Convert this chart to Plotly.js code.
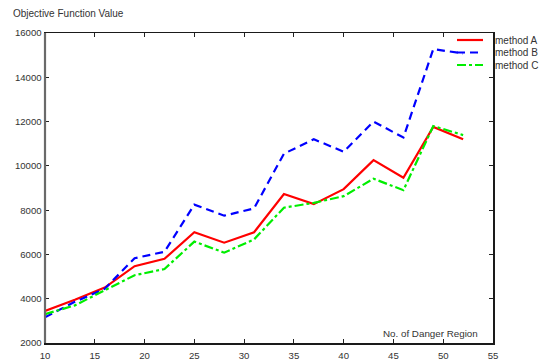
<!DOCTYPE html>
<html>
<head>
<meta charset="utf-8">
<script src="https://cdn.plot.ly/plotly-3.0.1.min.js"></script>
<style>html,body{margin:0;padding:0;background:#fff;}#chart{width:539px;height:363px;}</style>
</head>
<body>
<div id="chart"></div>
<script>
var regions = [10, 13, 16, 19, 22, 25, 28, 31, 34, 37, 40, 43, 46, 49, 52];
var methodA = [3450, 3950, 4500, 5470, 5800, 7000, 6530, 7000, 8730, 8270, 8950, 10260, 9460, 11760, 11200];
var methodB = [3160, 3860, 4450, 5830, 6120, 8250, 7750, 8080, 10550, 11200, 10640, 12000, 11280, 15270, 15080];
var methodC = [3300, 3700, 4380, 5060, 5340, 6580, 6080, 6680, 8110, 8330, 8630, 9420, 8900, 11800, 11390];
var seriesNames = ["method A", "method B", "method C"];
var xTicks = [10, 15, 20, 25, 30, 35, 40, 45, 50, 55];
var yTicks = [2000, 4000, 6000, 8000, 10000, 12000, 14000, 16000];
var titleText = "Objective Function Value";
var xLabelText = "No. of Danger Region";

var FONT = "Liberation Sans, Arial, Helvetica, sans-serif";
var TEXT = "#333";
var lineStyles = [
  {color: "#ff0000", width: 2.2, dash: "solid"},
  {color: "#0000ff", width: 2.2, dash: "8px,5px"},
  {color: "#00ee00", width: 2.2, dash: "9px,3px,3px,3px"}
];
var seriesValues = [methodA, methodB, methodC];

var traces = seriesValues.map(function (vals, i) {
  return {x: regions, y: vals, name: seriesNames[i], type: "scatter", mode: "lines",
          line: lineStyles[i], showlegend: false};
});

// plot-area geometry (px) used to place the hand-drawn legend
var W = 539, H = 363, ML = 45, MR = 46, MT = 33, MB = 20;
var PW = W - ML - MR, PH = H - MT - MB;
function px2x(p) { return (p - ML) / PW; }
function py2y(p) { return (H - MB - p) / PH; }

var shapes = [
  // thicker grey left spine, as in the reference
  {type: "line", xref: "paper", yref: "paper", x0: 0, x1: 0, y0: 0, y1: 1, layer: "above",
   line: {color: "#6a6a6a", width: 2.2}}
];
var annotations = [];
seriesNames.forEach(function (nm, i) {
  var yy = py2y(40 + i * 12.5);
  shapes.push({type: "line", xref: "paper", yref: "paper", x0: px2x(457), x1: px2x(483), y0: yy, y1: yy,
               line: lineStyles[i]});
  annotations.push({text: nm, xref: "paper", yref: "paper", x: px2x(493), xanchor: "left", y: yy, yanchor: "middle",
                    showarrow: false, font: {family: FONT, size: 10, color: TEXT}});
});
annotations.push({text: xLabelText, xref: "paper", yref: "paper", x: px2x(480), xanchor: "right",
                  y: py2y(333), yanchor: "middle", showarrow: false,
                  font: {family: FONT, size: 9.8, color: TEXT}});

var axisCommon = {
  showline: true, linecolor: "#1a1a1a", linewidth: 1.5, mirror: "ticks",
  ticks: "inside", ticklen: 4, tickwidth: 1, tickcolor: "#222",
  showgrid: false, zeroline: false,
  tickfont: {family: FONT, size: 9.6, color: TEXT}
};
var layout = {
  width: W, height: H,
  margin: {l: ML, r: MR, t: MT, b: MB, pad: 0, autoexpand: false},
  paper_bgcolor: "#fff", plot_bgcolor: "#fff",
  font: {family: FONT, size: 10, color: TEXT},
  title: {text: titleText, xref: "container", yref: "container", x: 13 / W, xanchor: "left",
          y: 1 - 13 / H, yanchor: "middle", font: {family: FONT, size: 10, color: TEXT}},
  xaxis: Object.assign({}, axisCommon, {range: [10, 55], tickvals: xTicks, ticktext: xTicks.map(String),
                                        ticklabelstandoff: 3}),
  yaxis: Object.assign({}, axisCommon, {range: [2000, 16000], tickvals: yTicks, ticktext: yTicks.map(String)}),
  showlegend: false,
  shapes: shapes,
  annotations: annotations
};
Plotly.newPlot("chart", traces, layout, {displayModeBar: false, staticPlot: true});
</script>
</body>
</html>
